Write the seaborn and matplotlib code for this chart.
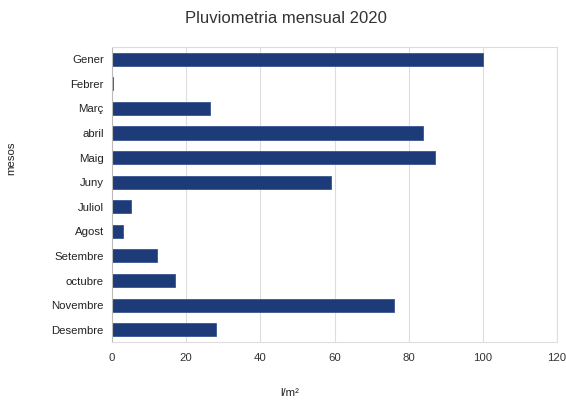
import matplotlib
matplotlib.use("Agg")
import matplotlib.pyplot as plt
import seaborn as sns
import pandas as pd

months = ["Gener", "Febrer", "Març", "abril", "Maig", "Juny", "Juliol", "Agost",
          "Setembre", "octubre", "Novembre", "Desembre"]
rain = [100, 0.3, 26.3, 84, 87, 59, 5, 3, 12, 17, 76, 28]
xticks = [0, 20, 40, 60, 80, 100, 120]

sns.set_theme(style="white")
plt.rcParams['font.family'] = ['Liberation Sans', 'DejaVu Sans']

df = pd.DataFrame({"mes": months, "pluja": rain})

fig = plt.figure(figsize=(5.66, 4.01), dpi=100)
ax = fig.add_axes([0.198, 0.147, 0.786, 0.736])
sns.barplot(data=df, x="pluja", y="mes", orient="h", color="#1d3b79",
            width=0.53, edgecolor="#3a5590", linewidth=0.6, saturation=1, ax=ax)

ax.set_xlim(0, 120)
ax.set_xticks(xticks)
ax.set_xticklabels([str(t) for t in xticks], fontsize=8.2, color="#333333")
ax.tick_params(axis="y", labelsize=8.2, colors="#222222", length=0, pad=6)
ax.tick_params(axis="x", length=0, pad=8)
ax.grid(axis="x", color="#dddddd", linewidth=0.8)
ax.set_axisbelow(True)
for s in ["top", "bottom", "right"]:
    ax.spines[s].set_color("#dddddd")
    ax.spines[s].set_linewidth(0.8)
ax.spines["left"].set_color("#bbbbbb")
ax.spines["left"].set_linewidth(0.8)

ax.set_xlabel("l/m²", fontsize=8.2, color="#222222")
ax.xaxis.set_label_coords(0.40, -0.155)
ax.set_ylabel("mesos", fontsize=8.2, color="#222222")
ax.yaxis.set_label_coords(-0.215, 0.624)
fig.text(0.505, 0.955, "Pluviometria mensual 2020", fontsize=12,
         color="#333333", ha="center", va="center")

fig.savefig("out.png", dpi=100)
